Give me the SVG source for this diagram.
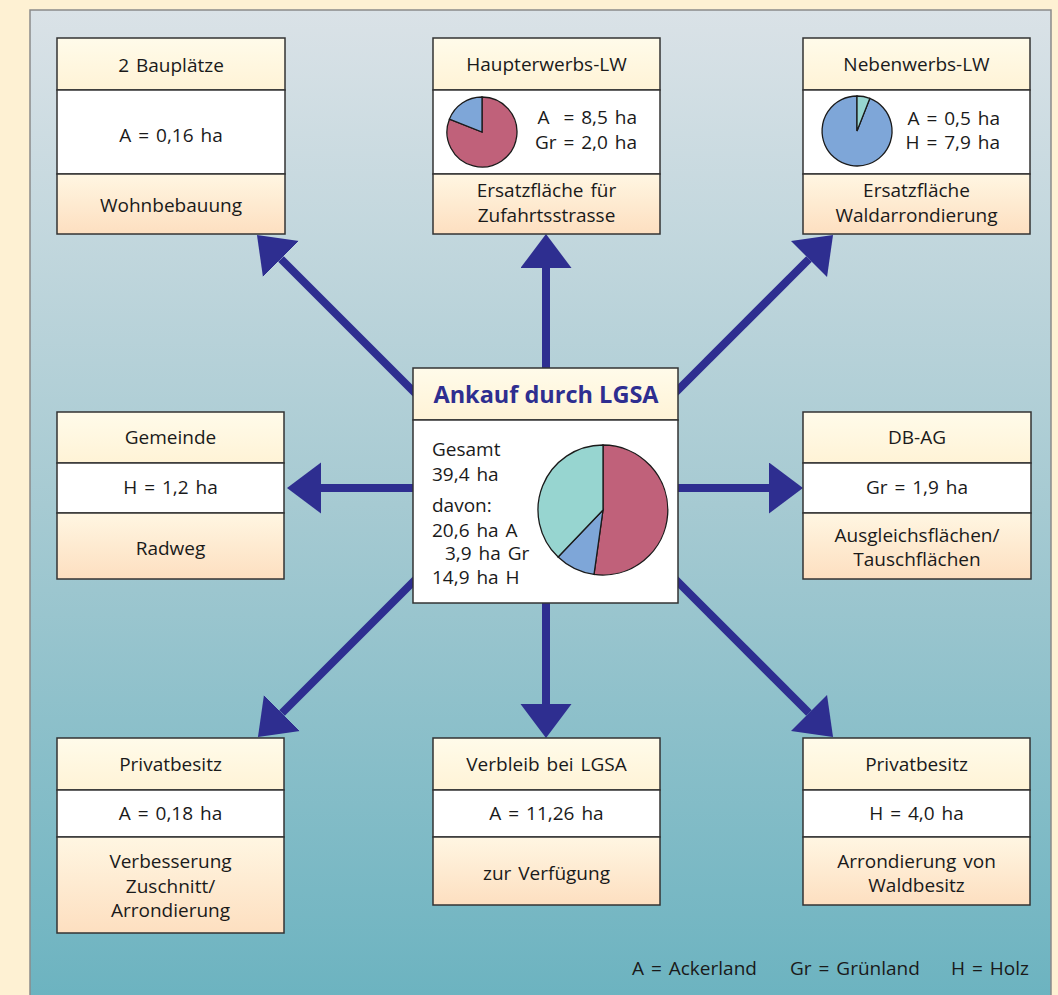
<svg xmlns="http://www.w3.org/2000/svg" width="1058" height="995" viewBox="0 0 1058 995">
<defs>
<linearGradient id="panel" x1="0" y1="0" x2="0" y2="1">
<stop offset="0" stop-color="#dae2e7"/>
<stop offset="0.5" stop-color="#a6cad2"/>
<stop offset="1" stop-color="#6cb3c0"/>
</linearGradient>
<linearGradient id="head" x1="0" y1="0" x2="0" y2="1">
<stop offset="0" stop-color="#fffbea"/>
<stop offset="1" stop-color="#fff3d6"/>
</linearGradient>
<linearGradient id="foot" x1="0" y1="0" x2="0" y2="1">
<stop offset="0" stop-color="#fff6e2"/>
<stop offset="1" stop-color="#fddfc0"/>
</linearGradient>
<marker id="ah" markerUnits="userSpaceOnUse" markerWidth="36" markerHeight="52" refX="0" refY="25.5" orient="auto" viewBox="0 0 36 52">
<path d="M0,0 L34,25.5 L0,51 Z" fill="#2e2e90"/>
</marker>
</defs>
<style>
.box{stroke:#333;stroke-width:1.5}
.hd{fill:url(#head)}
.md{fill:#fff}
.ft{fill:url(#foot)}
.t{font-family:"Open Sans","Liberation Sans",sans-serif;font-size:19px;fill:#1a1a1a;word-spacing:2px}
.c{text-anchor:middle}
.e{text-anchor:end}
.conn{stroke:#2e2e90;stroke-width:8;fill:none;marker-end:url(#ah)}
.pie{stroke:#1a1a1a;stroke-width:1.3}
</style>
<rect x="0" y="0" width="1058" height="995" fill="#fef1d3"/>
<rect x="30" y="10" width="1021" height="990" fill="url(#panel)" stroke="#8a8a8a" stroke-width="1.5"/>

<g id="connectors">
<line class="conn" x1="546" y1="380" x2="546" y2="268"/>
<line class="conn" x1="546" y1="590" x2="546" y2="704"/>
<line class="conn" x1="425" y1="488" x2="321" y2="488"/>
<line class="conn" x1="666" y1="488" x2="769" y2="488"/>
<line class="conn" x1="425" y1="403" x2="281" y2="259"/>
<line class="conn" x1="666" y1="402" x2="809" y2="259"/>
<line class="conn" x1="425" y1="570" x2="282" y2="713"/>
<line class="conn" x1="666" y1="570" x2="809" y2="713"/>
</g>

<g id="center">
<rect class="box hd" x="413" y="368" width="265" height="52"/>
<rect class="box md" x="413" y="420" width="265" height="183"/>
<text x="546" y="403" class="c" font-family="'Open Sans','Liberation Sans',sans-serif" font-size="23.5" font-weight="bold" fill="#2e2e90">Ankauf durch LGSA</text>
<text class="t" x="432" y="456">Gesamt</text>
<text class="t" x="432" y="481">39,4 ha</text>
<text class="t" x="432" y="512">davon:</text>
<text class="t" x="432" y="537">20,6 ha A</text>
<text class="t" x="445" y="560">3,9 ha Gr</text>
<text class="t" x="432" y="584">14,9 ha H</text>
<path class="pie" fill="#c0617a" d="M603,510 L603,445 A65,65 0 1 1 594,574.4 Z"/>
<path class="pie" fill="#7ea6d8" d="M603,510 L594,574.4 A65,65 0 0 1 558.1,557 Z"/>
<path class="pie" fill="#97d5d0" d="M603,510 L558.1,557 A65,65 0 0 1 603,445 Z"/>
</g>

<g id="n-bauplaetze">
<rect class="box hd" x="57" y="38" width="228" height="52"/>
<rect class="box md" x="57" y="90" width="228" height="84"/>
<rect class="box ft" x="57" y="174" width="228" height="60"/>
<text class="t c" x="171" y="72">2 Bauplätze</text>
<text class="t c" x="171" y="142">A = 0,16 ha</text>
<text class="t c" x="171" y="212">Wohnbebauung</text>
</g>

<g id="n-haupterwerb">
<rect class="box hd" x="433" y="38" width="227" height="52"/>
<rect class="box md" x="433" y="90" width="227" height="84"/>
<rect class="box ft" x="433" y="174" width="227" height="60"/>
<text class="t c" x="546.5" y="71">Haupterwerbs-LW</text>
<path class="pie" fill="#c0617a" d="M482,132 L482,97 A35,35 0 1 1 449.4,119.2 Z"/>
<path class="pie" fill="#7ea6d8" d="M482,132 L449.4,119.2 A35,35 0 0 1 482,97 Z"/>
<text class="t e" x="637" y="124" xml:space="preserve">A  = 8,5 ha</text>
<text class="t e" x="637" y="149">Gr = 2,0 ha</text>
<text class="t c" x="546.5" y="197">Ersatzfläche für</text>
<text class="t c" x="546.5" y="222">Zufahrtsstrasse</text>
</g>

<g id="n-nebenerwerb">
<rect class="box hd" x="803" y="38" width="227" height="52"/>
<rect class="box md" x="803" y="90" width="227" height="84"/>
<rect class="box ft" x="803" y="174" width="227" height="60"/>
<text class="t c" x="916.5" y="71">Nebenwerbs-LW</text>
<path class="pie" fill="#7ea6d8" d="M857,131 L869.8,98.4 A35,35 0 1 1 857,96 Z"/>
<path class="pie" fill="#97d5d0" d="M857,131 L857,96 A35,35 0 0 1 869.8,98.4 Z"/>
<text class="t e" x="1000" y="125">A = 0,5 ha</text>
<text class="t e" x="1000" y="149">H = 7,9 ha</text>
<text class="t c" x="916.5" y="197">Ersatzfläche</text>
<text class="t c" x="916.5" y="222">Waldarrondierung</text>
</g>

<g id="n-gemeinde">
<rect class="box hd" x="57" y="412" width="227" height="51"/>
<rect class="box md" x="57" y="463" width="227" height="50"/>
<rect class="box ft" x="57" y="513" width="227" height="66"/>
<text class="t c" x="170.5" y="444">Gemeinde</text>
<text class="t c" x="170.5" y="494">H = 1,2 ha</text>
<text class="t c" x="170.5" y="555">Radweg</text>
</g>

<g id="n-dbag">
<rect class="box hd" x="803" y="412" width="228" height="51"/>
<rect class="box md" x="803" y="463" width="228" height="50"/>
<rect class="box ft" x="803" y="513" width="228" height="66"/>
<text class="t c" x="917" y="444">DB-AG</text>
<text class="t c" x="917" y="494">Gr = 1,9 ha</text>
<text class="t c" x="917" y="542">Ausgleichsflächen/</text>
<text class="t c" x="917" y="566">Tauschflächen</text>
</g>

<g id="n-privat-a">
<rect class="box hd" x="57" y="738" width="227" height="52"/>
<rect class="box md" x="57" y="790" width="227" height="47"/>
<rect class="box ft" x="57" y="837" width="227" height="96"/>
<text class="t c" x="170.5" y="771">Privatbesitz</text>
<text class="t c" x="170.5" y="820">A = 0,18 ha</text>
<text class="t c" x="170.5" y="868">Verbesserung</text>
<text class="t c" x="170.5" y="893">Zuschnitt/</text>
<text class="t c" x="170.5" y="917">Arrondierung</text>
</g>

<g id="n-verbleib">
<rect class="box hd" x="433" y="738" width="227" height="52"/>
<rect class="box md" x="433" y="790" width="227" height="47"/>
<rect class="box ft" x="433" y="837" width="227" height="68"/>
<text class="t c" x="546.5" y="771">Verbleib bei LGSA</text>
<text class="t c" x="546.5" y="820">A = 11,26 ha</text>
<text class="t c" x="546.5" y="880">zur Verfügung</text>
</g>

<g id="n-privat-h">
<rect class="box hd" x="803" y="738" width="227" height="52"/>
<rect class="box md" x="803" y="790" width="227" height="47"/>
<rect class="box ft" x="803" y="837" width="227" height="68"/>
<text class="t c" x="916.5" y="771">Privatbesitz</text>
<text class="t c" x="916.5" y="820">H = 4,0 ha</text>
<text class="t c" x="916.5" y="868">Arrondierung von</text>
<text class="t c" x="916.5" y="892">Waldbesitz</text>
</g>

<g id="legend">
<text class="t" x="632" y="975">A = Ackerland</text>
<text class="t" x="790" y="975">Gr = Grünland</text>
<text class="t" x="951" y="975">H = Holz</text>
</g>
</svg>
